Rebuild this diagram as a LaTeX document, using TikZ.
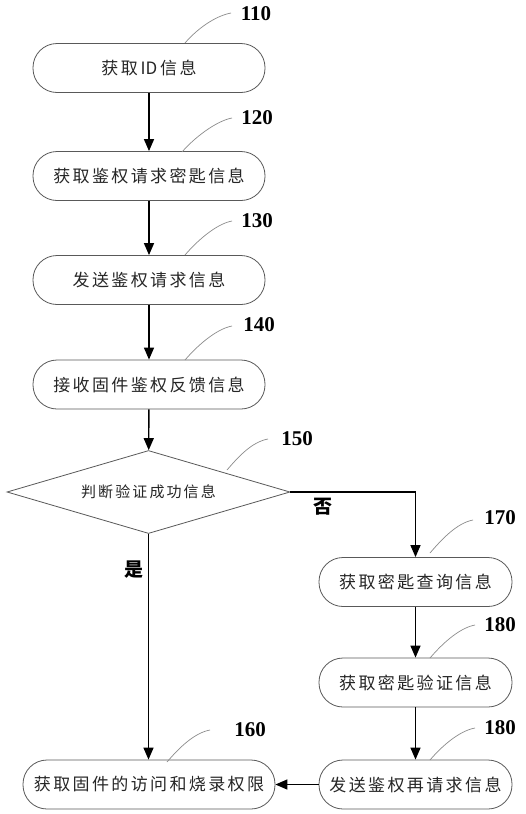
\documentclass[tikz,border=0pt]{standalone}
\usepackage{fontspec}
\setmainfont{Liberation Serif}
\newfontfamily\cjk[LetterSpace=14]{Noto Sans CJK SC}
\newfontfamily\cjkb{Noto Sans CJK SC}
\usetikzlibrary{arrows.meta,shapes.geometric,calc}
\begin{document}
\begin{tikzpicture}[x=1pt,y=-1pt,
  stepbox/.style={draw=black!65,line width=0.8pt,rounded corners=24pt,minimum height=49pt,
    inner sep=0pt,font=\cjk\fontsize{17}{17}\selectfont,text=black!85},
  flow/.style={line width=1.4pt,-{Triangle[length=12pt,width=10pt]}},
  callout/.style={draw=black!45,line width=0.7pt},
  num/.style={font=\bfseries\fontsize{21}{21}\selectfont,inner sep=0pt},
  yn/.style={font=\cjkb\bfseries\fontsize{19}{19}\selectfont,inner sep=0pt}]
\useasboundingbox (0,0) rectangle (526,814);
\fill[white] (0,0) rectangle (526,814);

\node[stepbox,minimum width=232pt] (b110) at (149,68) {获取\,{\cjkb ID}\,信息};
\node[stepbox,minimum width=232pt] (b120) at (149,176) {获取鉴权请求密匙信息};
\node[stepbox,minimum width=232pt] (b130) at (149,280) {发送鉴权请求信息};
\node[stepbox,minimum width=232pt] (b140) at (149,384.5) {接收固件鉴权反馈信息};
\node[diamond,draw=black!65,line width=0.8pt,minimum width=283pt,minimum height=83pt,
  shape aspect=3.4,inner sep=0pt,font=\cjk\fontsize{15}{15}\selectfont,text=black!85] (d150) at (148.5,492) {判断验证成功信息};
\node[stepbox,minimum width=193pt] (b170) at (415.5,582) {获取密匙查询信息};
\node[stepbox,minimum width=193pt] (b180a) at (415.5,682.5) {获取密匙验证信息};
\node[stepbox,minimum width=193pt] (b180b) at (415.5,784.5) {发送鉴权再请求信息};
\node[stepbox,minimum width=252pt] (b160) at (149,784.5) {获取固件的访问和烧录权限};

\draw[flow] (b110) -- (b120);
\draw[flow] (b120) -- (b130);
\draw[flow] (b130) -- (b140);
\draw[flow] (b140) -- (d150);
\draw[flow] (d150.east) -| (b170.north);
\draw[flow] (d150.south) -- (d150.south |- b160.north);
\draw[flow] (b170) -- (b180a);
\draw[flow] (b180a) -- (b180b);
\draw[flow] (b180b) -- (b160);

\node[yn] (no) at (323,507) {否};
\node[yn] (yes) at (134,570) {是};

\node[num] (n110) at (256,14) {110};
\node[num] (n120) at (257,118) {120};
\node[num] (n130) at (257,221) {130};
\node[num] (n140) at (259,325) {140};
\node[num] (n150) at (297,439) {150};
\node[num] (n170) at (500,518) {170};
\node[num] (n180a) at (500,625) {180};
\node[num] (n180b) at (500,728) {180};
\node[num] (n160) at (250,730) {160};

\coordinate (c110a) at (185,43);  \coordinate (c110b) at (231,13);
\coordinate (c120a) at (182,152); \coordinate (c120b) at (232,118);
\coordinate (c130a) at (185,255); \coordinate (c130b) at (232,221);
\coordinate (c140a) at (185,360); \coordinate (c140b) at (232,326);
\coordinate (c150a) at (227,470); \coordinate (c150b) at (268,439);
\coordinate (c170a) at (430,553); \coordinate (c170b) at (473,520);
\coordinate (c180aa) at (430,658); \coordinate (c180ab) at (475,625);
\coordinate (c180ba) at (430,760); \coordinate (c180bb) at (475,728);
\coordinate (c160a) at (167,762); \coordinate (c160b) at (210,730);
\foreach \a/\b in {c110a/c110b,c120a/c120b,c130a/c130b,c140a/c140b,c150a/c150b,c170a/c170b,c180aa/c180ab,c180ba/c180bb,c160a/c160b}
  \draw[callout] (\a) .. controls ($(\a)+(12,-14)$) and ($(\b)+(-16,3)$) .. (\b);
\end{tikzpicture}
\end{document}
